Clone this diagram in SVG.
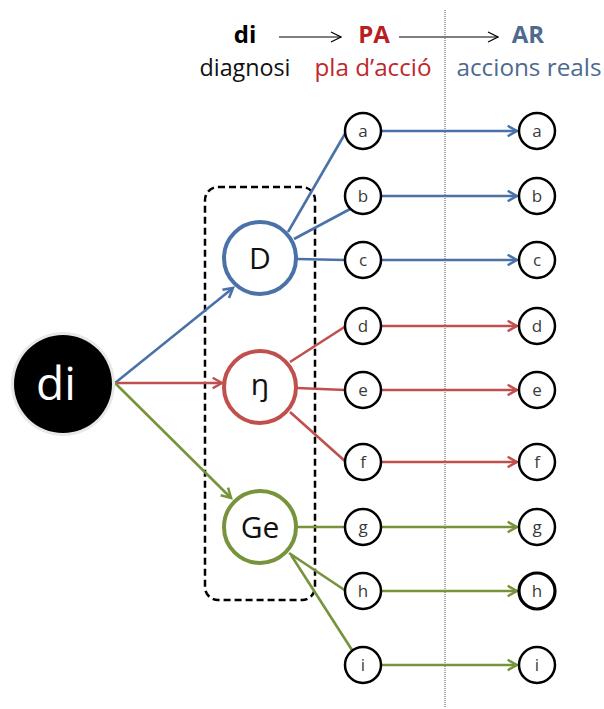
<svg xmlns="http://www.w3.org/2000/svg" width="604" height="709" viewBox="0 0 604 709">
  <defs>
    <marker id="hdr" viewBox="0 0 12 12" refX="11" refY="6" markerWidth="12" markerHeight="12" markerUnits="userSpaceOnUse" orient="auto">
      <path d="M1,1 L11,6 L1,11" fill="none" stroke="#000" stroke-width="1.2"/>
    </marker>
    <marker id="ab" viewBox="0 0 12 12" refX="10" refY="6" markerWidth="14" markerHeight="14" markerUnits="userSpaceOnUse" orient="auto">
      <path d="M2,1.5 L10,6 L2,10.5" fill="none" stroke="#4a72a8" stroke-width="2.2"/>
    </marker>
    <marker id="ar" viewBox="0 0 12 12" refX="10" refY="6" markerWidth="14" markerHeight="14" markerUnits="userSpaceOnUse" orient="auto">
      <path d="M2,1.5 L10,6 L2,10.5" fill="none" stroke="#c0504d" stroke-width="2.2"/>
    </marker>
    <marker id="ag" viewBox="0 0 12 12" refX="10" refY="6" markerWidth="14" markerHeight="14" markerUnits="userSpaceOnUse" orient="auto">
      <path d="M2,1.5 L10,6 L2,10.5" fill="none" stroke="#77933c" stroke-width="2.2"/>
    </marker>
  </defs>
  <style>
    text { font-family: "Open Sans", "Liberation Sans", sans-serif; text-anchor: middle; }
    .hd { font-size: 24px; font-weight: bold; }
    .sub { font-size: 24px; }
    .sm circle { fill: #fff; stroke: #000; stroke-width: 2.5; }
    .sm text { font-size: 17px; fill: #3a3a3a; }
    .big circle { fill: #fff; stroke-width: 4; }
    .big text { font-size: 30px; fill: #111; }
    .b { stroke: #4a72a8; }
    .r { stroke: #c0504d; }
    .g { stroke: #77933c; }
    #connectors line { stroke-width: 2.6; fill: none; }
  </style>
  <rect width="604" height="709" fill="#fff"/>

  <!-- header -->
  <g id="header">
    <text class="hd" x="245" y="43" fill="#000">di</text>
    <text class="hd" x="374" y="43" fill="#b81e22">PA</text>
    <text class="hd" x="528" y="43" fill="#4f6a8f">AR</text>
    <line x1="279" y1="37" x2="341" y2="37" stroke="#000" stroke-width="1" marker-end="url(#hdr)"/>
    <line x1="399" y1="37" x2="498" y2="37" stroke="#000" stroke-width="1" marker-end="url(#hdr)"/>
    <text class="sub" x="245" y="76" fill="#111" textLength="91" lengthAdjust="spacingAndGlyphs">diagnosi</text>
    <text class="sub" x="373" y="76" fill="#c0282d" textLength="117" lengthAdjust="spacingAndGlyphs">pla d’acció</text>
    <text class="sub" x="529" y="76" fill="#4f6a8f" textLength="145" lengthAdjust="spacingAndGlyphs">accions reals</text>
  </g>

  <!-- separator between plan and actions -->
  <line x1="445" y1="10" x2="445" y2="708" stroke="#555" stroke-width="1" stroke-dasharray="1,1"/>

  <!-- grouping frame -->
  <rect x="205" y="187" width="110" height="413" rx="13" fill="none" stroke="#000" stroke-width="2.5" stroke-dasharray="7,4"/>

  <g id="connectors">
    <line class="b" x1="115" y1="383" x2="233" y2="288" marker-end="url(#ab)"/>
    <line class="r" x1="115" y1="383" x2="222" y2="383" marker-end="url(#ar)"/>
    <line class="g" x1="115" y1="383" x2="231" y2="498" marker-end="url(#ag)"/>

    <line class="b" x1="288" y1="232" x2="346" y2="132"/>
    <line class="b" x1="294" y1="239" x2="352" y2="208"/>
    <line class="b" x1="297" y1="259" x2="345" y2="260"/>
    <line class="r" x1="290" y1="362" x2="346" y2="326"/>
    <line class="r" x1="297" y1="388" x2="345" y2="390"/>
    <line class="r" x1="290" y1="412" x2="346" y2="462"/>
    <line class="g" x1="297" y1="527" x2="345" y2="527"/>
    <line class="g" x1="289" y1="553" x2="346" y2="591"/>
    <line class="g" x1="291" y1="555" x2="352" y2="650"/>

    <line class="b" x1="381" y1="131" x2="517" y2="131" marker-end="url(#ab)"/>
    <line class="b" x1="381" y1="196" x2="517" y2="196" marker-end="url(#ab)"/>
    <line class="b" x1="381" y1="260" x2="517" y2="260" marker-end="url(#ab)"/>
    <line class="r" x1="381" y1="326" x2="517" y2="326" marker-end="url(#ar)"/>
    <line class="r" x1="381" y1="390" x2="517" y2="390" marker-end="url(#ar)"/>
    <line class="r" x1="381" y1="462" x2="517" y2="462" marker-end="url(#ar)"/>
    <line class="g" x1="381" y1="527" x2="517" y2="527" marker-end="url(#ag)"/>
    <line class="g" x1="381" y1="591" x2="517" y2="591" marker-end="url(#ag)"/>
    <line class="g" x1="381" y1="665" x2="517" y2="665" marker-end="url(#ag)"/>
  </g>

  <!-- root node -->
  <g id="n-di">
    <circle cx="63" cy="384" r="52" fill="#e8e8e8"/>
    <circle cx="63" cy="384" r="49" fill="#000"/>
    <text x="56" y="400" font-size="46" fill="#fff">di</text>
  </g>

  <!-- intermediate nodes -->
  <g id="n-D" class="big">
    <circle class="b" cx="260" cy="258" r="36"/>
    <text x="260" y="269">D</text>
  </g>
  <g id="n-eng" class="big">
    <circle class="r" cx="260" cy="387" r="36"/>
    <text x="260" y="395">ŋ</text>
  </g>
  <g id="n-Ge" class="big">
    <circle class="g" cx="260" cy="527" r="36"/>
    <text x="260" y="538">Ge</text>
  </g>

  <!-- plan column -->
  <g id="pa-a" class="sm"><circle cx="363" cy="131" r="18"/><text x="363" y="137">a</text></g>
  <g id="pa-b" class="sm"><circle cx="363" cy="196" r="18"/><text x="363" y="202">b</text></g>
  <g id="pa-c" class="sm"><circle cx="363" cy="260" r="18"/><text x="363" y="266">c</text></g>
  <g id="pa-d" class="sm"><circle cx="363" cy="326" r="18"/><text x="363" y="332">d</text></g>
  <g id="pa-e" class="sm"><circle cx="363" cy="390" r="18"/><text x="363" y="396">e</text></g>
  <g id="pa-f" class="sm"><circle cx="363" cy="462" r="18"/><text x="363" y="468">f</text></g>
  <g id="pa-g" class="sm"><circle cx="363" cy="527" r="18"/><text x="363" y="533">g</text></g>
  <g id="pa-h" class="sm"><circle cx="363" cy="591" r="18"/><text x="363" y="597">h</text></g>
  <g id="pa-i" class="sm"><circle cx="363" cy="665" r="18"/><text x="363" y="671">i</text></g>

  <!-- action column -->
  <g id="ar-a" class="sm"><circle cx="537" cy="131" r="18"/><text x="537" y="137">a</text></g>
  <g id="ar-b" class="sm"><circle cx="537" cy="196" r="18"/><text x="537" y="202">b</text></g>
  <g id="ar-c" class="sm"><circle cx="537" cy="260" r="18"/><text x="537" y="266">c</text></g>
  <g id="ar-d" class="sm"><circle cx="537" cy="326" r="18"/><text x="537" y="332">d</text></g>
  <g id="ar-e" class="sm"><circle cx="537" cy="390" r="18"/><text x="537" y="396">e</text></g>
  <g id="ar-f" class="sm"><circle cx="537" cy="462" r="18"/><text x="537" y="468">f</text></g>
  <g id="ar-g" class="sm"><circle cx="537" cy="527" r="18"/><text x="537" y="533">g</text></g>
  <g id="ar-h" class="sm"><circle cx="537" cy="591" r="18" style="stroke-width:3.2"/><text x="537" y="597">h</text></g>
  <g id="ar-i" class="sm"><circle cx="537" cy="665" r="18"/><text x="537" y="671">i</text></g>
</svg>
